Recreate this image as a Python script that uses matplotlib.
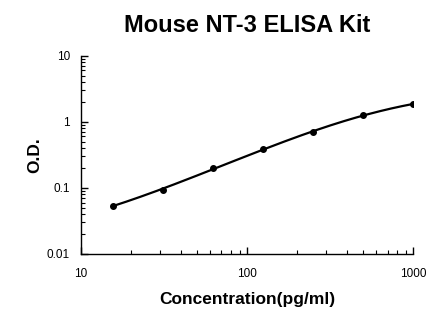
import matplotlib
matplotlib.use("Agg")
import matplotlib.pyplot as plt
import numpy as np
from matplotlib.ticker import LogLocator, FixedLocator, FixedFormatter, NullFormatter

plt.rcParams["font.family"] = ["Liberation Sans", "DejaVu Sans"]

# standard curve: concentration (pg/ml) vs O.D.
conc = [15.6, 31.25, 62.5, 125, 250, 500, 1000]
od = [0.054, 0.093, 0.202, 0.384, 0.693, 1.27, 1.86]


def four_pl(p, x):
    a, b, c, d = p
    return d + (a - d) / (1.0 + (x / c) ** b)


def fit_4pl(x, y, n_iter=400):
    # small Levenberg-Marquardt on log residuals
    x, y = np.asarray(x, float), np.asarray(y, float)
    p = np.array([0.0, 1.0, 500.0, 3.0])
    lam = 1e-2

    def res(q):
        f = four_pl(q, x)
        if np.any(f <= 0):
            return np.full_like(y, 1e3)
        return np.log10(f) - np.log10(y)

    r = res(p)
    for _ in range(n_iter):
        J = np.empty((len(x), 4))
        for k in range(4):
            h = 1e-6 * max(1.0, abs(p[k]))
            dp = p.copy()
            dp[k] += h
            J[:, k] = (res(dp) - r) / h
        A = J.T @ J
        step = np.linalg.solve(A + lam * np.diag(np.diag(A) + 1e-12), -J.T @ r)
        pn = p + step
        rn = res(pn)
        if rn @ rn < r @ r:
            p, r = pn, rn
            lam *= 0.5
        else:
            lam *= 4.0
    return p


params = fit_4pl(conc, od)

fig = plt.figure(figsize=(4.46, 3.26), dpi=100)
ax = fig.add_axes([0.1816, 0.2209, 0.7451, 0.6083])

xs = np.logspace(np.log10(conc[0]), np.log10(conc[-1]), 300)
ax.plot(xs, four_pl(params, xs), color="black", lw=1.6, zorder=2)
ax.plot(conc, od, "o", color="black", ms=4, zorder=3)

ax.set_xscale("log")
ax.set_yscale("log")
ax.set_xlim(10, 1000)
ax.set_ylim(0.01, 10)

ax.xaxis.set_major_locator(FixedLocator([10, 100, 1000]))
ax.xaxis.set_major_formatter(FixedFormatter(["10", "100", "1000"]))
ax.xaxis.set_minor_locator(LogLocator(base=10, subs=np.arange(2, 10)))
ax.xaxis.set_minor_formatter(NullFormatter())
ax.yaxis.set_major_locator(FixedLocator([0.01, 0.1, 1, 10]))
ax.yaxis.set_major_formatter(FixedFormatter(["0.01", "0.1", "1", "10"]))
ax.yaxis.set_minor_locator(LogLocator(base=10, subs=np.arange(2, 10)))
ax.yaxis.set_minor_formatter(NullFormatter())

for s in ("top", "right"):
    ax.spines[s].set_visible(False)
for s in ("left", "bottom"):
    ax.spines[s].set_linewidth(1.0)

ax.tick_params(axis="both", which="major", direction="in", length=5, width=1, labelsize=8.5)
ax.tick_params(axis="both", which="minor", direction="in", length=3, width=0.8)
ax.tick_params(axis="x", which="major", pad=10)
ax.tick_params(axis="y", which="major", pad=8)

ax.set_title("Mouse NT-3 ELISA Kit", fontsize=17, fontweight="bold", pad=17)
ax.set_xlabel("Concentration(pg/ml)", fontsize=12.5, fontweight="bold", labelpad=9)
ax.set_ylabel("O.D.", fontsize=12.5, fontweight="bold", labelpad=3)

fig.savefig("out.png", dpi=100)
